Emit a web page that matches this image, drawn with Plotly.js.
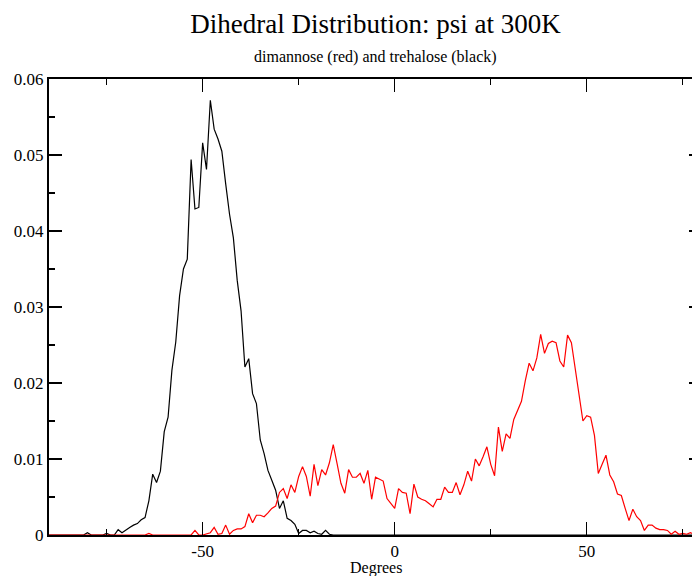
<!DOCTYPE html>
<html>
<head>
<meta charset="utf-8">
<script src="https://cdn.plot.ly/plotly-3.0.1.min.js"></script>
<style>
html, body { margin: 0; padding: 0; overflow: hidden; background: #fff; }
#chart { width: 710px; height: 576px; }
</style>
</head>
<body>
<div id="chart"></div>
<script>
const degrees = [
-90,-89,-88,-87,-86,-85,-84,-83,-82,-81,
-80,-79,-78,-77,-76,-75,-74,-73,-72,-71,
-70,-69,-68,-67,-66,-65,-64,-63,-62,-61,
-60,-59,-58,-57,-56,-55,-54,-53,-52,-51,
-50,-49,-48,-47,-46,-45,-44,-43,-42,-41,
-40,-39,-38,-37,-36,-35,-34,-33,-32,-31,
-30,-29,-28,-27,-26,-25,-24,-23,-22,-21,
-20,-19,-18,-17,-16,-15,-14,-13,-12,-11,
-10,-9,-8,-7,-6,-5,-4,-3,-2,-1,
0,1,2,3,4,5,6,7,8,9,
10,11,12,13,14,15,16,17,18,19,
20,21,22,23,24,25,26,27,28,29,
30,31,32,33,34,35,36,37,38,39,
40,41,42,43,44,45,46,47,48,49,
50,51,52,53,54,55,56,57,58,59,
60,61,62,63,64,65,66,67,68,69,
70,71,72,73,74,75,76,77,78,79,
80];

// trehalose (black)
const trehalose = [
0,0,0,0,0,0,0,0,0,0,
0.0003,0,0,0,0,0.0002,0,0,0.0007,0.0003,
0.0007,0.0010,0.0013,0.0015,0.0020,0.0023,0.0045,0.0080,0.0069,0.0084,
0.0136,0.0155,0.0217,0.0254,0.0315,0.0350,0.0363,0.0494,0.0429,0.0431,
0.0516,0.0481,0.0572,0.0534,0.0521,0.0505,0.0462,0.0422,0.0391,0.0335,
0.0295,0.0221,0.0232,0.0186,0.0173,0.0125,0.0107,0.0085,0.0072,0.0059,
0.0035,0.0045,0.0022,0.0019,0.0014,0.0002,0.0006,0.0006,0.0003,0.0005,
0.0002,0.0001,0.0006,0.0001,0,0,0,0,0,0,
0,0,0,0,0,0,0,0,0,0,
0,0,0,0,0,0,0,0,0,0,
0,0,0,0,0,0,0,0,0,0,
0,0,0,0,0,0,0,0,0,0,
0,0,0,0,0,0,0,0,0,0,
0,0,0,0,0,0,0,0,0,0,
0,0,0,0,0,0,0,0,0,0,
0,0,0,0,0,0,0,0,0,0,
0,0,0,0,0,0,0,0,0,0,
0];

// dimannose (red)
const dimannose = [
0,0,0,0,0,0,0,0,0,0,
0,0,0,0,0,0,0,0,0,0,
0,0,0,0,0,0,0.0002,0,0,0,
0,0,0,0,0,0,0,0,0.0006,0,
0,0.0002,0.0003,0.0010,0.0001,0.0002,0.0013,0.0001,0.0006,0.0008,
0.0008,0.0011,0.0028,0.0016,0.0026,0.0026,0.0024,0.0029,0.0035,0.0038,
0.0056,0.0061,0.0048,0.0066,0.0056,0.0077,0.0090,0.0077,0.0051,0.0093,
0.0065,0.0086,0.0079,0.0095,0.0119,0.0094,0.0068,0.0055,0.0086,0.0076,
0.0076,0.0081,0.0068,0.0085,0.0047,0.0076,0.0074,0.0071,0.0048,0.0041,
0.0035,0.0061,0.0056,0.0055,0.0028,0.0067,0.0050,0.0047,0.0045,0.0041,
0.0037,0.0047,0.0047,0.0063,0.0056,0.0056,0.0069,0.0053,0.0066,0.0084,
0.0071,0.0100,0.0091,0.0103,0.0116,0.0093,0.0078,0.0142,0.0110,0.0133,
0.0127,0.0152,0.0164,0.0176,0.0203,0.0226,0.0216,0.0233,0.0264,0.0239,
0.0252,0.0255,0.0253,0.0229,0.0221,0.0263,0.0253,0.0219,0.0184,0.0150,
0.0157,0.0155,0.0131,0.0081,0.0093,0.0105,0.0079,0.0070,0.0054,0.0052,
0.0035,0.0019,0.0034,0.0024,0.0019,0.0006,0.0013,0.0013,0.0009,0.0007,
0.0007,0.0006,0.0001,0.0005,0.0001,0.0002,0.0001,0.0003,0.0001,0.0002,
0.0001];

const xTickVals = [-50, 0, 50];
const xTickText = ['-50', '0', '50'];
const titleText = 'Dihedral Distribution: psi at 300K';
const subtitleText = 'dimannose (red) and trehalose (black)';
const xTitleText = 'Degrees';

const serif = 'Liberation Serif';

const traces = [
  { x: degrees, y: trehalose, type: 'scatter', mode: 'lines',
    line: { color: '#000000', width: 1.2 }, name: 'trehalose', hoverinfo: 'skip' },
  { x: degrees, y: dimannose, type: 'scatter', mode: 'lines',
    line: { color: '#ff0000', width: 1.2 }, name: 'dimannose', hoverinfo: 'skip' }
];

const axisCommon = {
  showline: true, linecolor: '#000', linewidth: 2, mirror: 'ticks',
  ticks: 'inside', ticklen: 13, tickwidth: 1.3, tickcolor: '#000',
  showgrid: false, zeroline: false,
  tickfont: { family: serif, size: 17, color: '#000' }
};

const layout = {
  width: 710, height: 576,
  margin: { l: 49, r: 8, t: 79, b: 41 },
  paper_bgcolor: '#fff', plot_bgcolor: '#fff',
  showlegend: false,
  font: { family: serif, color: '#000' },
  title: { text: titleText, font: { family: serif, size: 27, color: '#000' },
           x: 0.5, xref: 'paper', xanchor: 'center', y: 1 - 24/576, yref: 'container', yanchor: 'middle' },
  xaxis: Object.assign({}, axisCommon, {
    range: [-90, 80], tickmode: 'array', tickvals: xTickVals, ticktext: xTickText,
    minor: { ticks: 'inside', ticklen: 6, tickwidth: 1.3, tickcolor: '#000', dtick: 25, tick0: 0, showgrid: false }
  }),
  yaxis: Object.assign({}, axisCommon, {
    range: [0, 0.06], dtick: 0.01, tick0: 0,
    minor: { ticks: 'inside', ticklen: 6, tickwidth: 1.3, tickcolor: '#000', dtick: 0.005, tick0: 0, showgrid: false }
  }),
  annotations: [
    { text: subtitleText, xref: 'paper', yref: 'paper', x: 0.5, y: (535 - 57) / 456,
      xanchor: 'center', yanchor: 'middle', showarrow: false,
      font: { family: serif, size: 16, color: '#000' } },
    { text: xTitleText, xref: 'paper', yref: 'paper', x: (376 - 49) / 653, y: (535 - 568) / 456,
      xanchor: 'center', yanchor: 'middle', showarrow: false,
      font: { family: serif, size: 16, color: '#000' } }
  ]
};

Plotly.newPlot('chart', traces, layout, { staticPlot: true, displayModeBar: false });
</script>
</body>
</html>
